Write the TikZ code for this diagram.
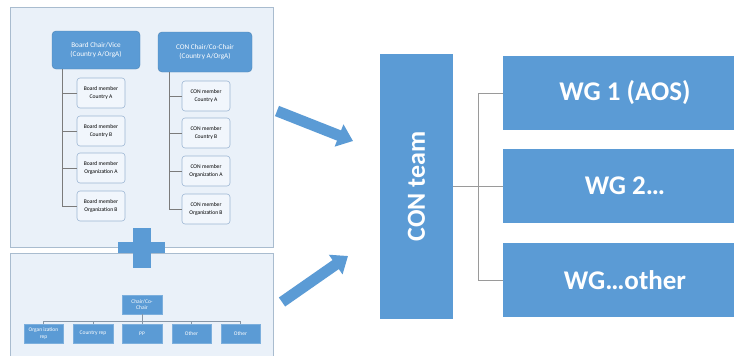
\documentclass[tikz,border=0pt]{standalone}
\usepackage{fontspec}
\setmainfont{Carlito}
\usetikzlibrary{arrows.meta,calc}
\definecolor{obl}{HTML}{5B9BD5}
\definecolor{panelfill}{HTML}{EAF1F9}
\definecolor{panelline}{HTML}{A9BCCF}
\definecolor{memfill}{HTML}{F1F6FC}
\definecolor{memline}{HTML}{9DB7D3}
\definecolor{linkgray}{HTML}{9A9A9A}
\begin{document}
\begin{tikzpicture}[x=1pt,y=-1pt,
  panel/.style={fill=panelfill,draw=panelline,line width=0.8pt},
  chairbox/.style={fill=obl,draw=obl!85!black,rounded corners=4pt,text=white,align=center,font=\fontsize{7.2}{9}\selectfont,inner sep=0pt},
  membox/.style={fill=memfill,draw=memline,line width=0.6pt,rounded corners=3pt,align=center,font=\fontsize{5.6}{7.5}\selectfont,minimum width=48pt,minimum height=30pt,inner sep=0pt},
  smallbox/.style={fill=obl,draw=obl!80!white,text=white,align=center,font=\fontsize{5.5}{6.5}\selectfont,minimum width=39pt,minimum height=19pt,inner sep=0pt},
  bigbox/.style={fill=obl,draw=none,text=white,font=\fontsize{27}{30}\selectfont\bfseries,inner sep=0pt},
  orgline/.style={draw=linkgray!80!black,line width=0.6pt},
  wglink/.style={draw=linkgray,line width=0.8pt},
  blockarrow/.style={draw=obl,line width=11pt,-{Triangle[length=15pt,width=23pt]}}
]
\useasboundingbox (0,0) rectangle (734,356);
\fill[white] (0,0) rectangle (734,356);

% panels
\path[panel] (10,7) rectangle (273,247);
\path[panel] (10,253) rectangle (273,360);

% board column
\node[chairbox,minimum width=88pt,minimum height=38pt] (bc) at (96,50) {Board Chair/Vice\\(Country A/OrgA)};
\node[membox] (b1) at (101,93) {Board member\\Country A};
\node[membox] (b2) at (101,131) {Board member\\Country B};
\node[membox] (b3) at (101,168) {Board member\\Organization A};
\node[membox] (b4) at (101,206) {Board member\\Organization B};
\coordinate (bx) at (62,0);
\draw[orgline] (bx |- bc.south) -- (bx |- b4.west) -- (b4.west);
\foreach \m in {b1,b2,b3} \draw[orgline] (bx |- \m.west) -- (\m.west);

% CON column
\node[chairbox,minimum width=94pt,minimum height=40pt] (cc) at (205,52) {CON Chair/Co-Chair\\(Country A/OrgA)};
\node[membox] (c1) at (206,96) {CON member\\Country A};
\node[membox] (c2) at (206,133) {CON member\\Country B};
\node[membox] (c3) at (206,171) {CON member\\Organization A};
\node[membox] (c4) at (206,209) {CON member\\Organization B};
\coordinate (cx) at (169,0);
\draw[orgline] (cx |- cc.south) -- (cx |- c4.west) -- (c4.west);
\foreach \m in {c1,c2,c3} \draw[orgline] (cx |- \m.west) -- (\m.west);

% plus sign
\fill[obl] (133,228) rectangle (151,268);
\fill[obl] (118,242) rectangle (165,253);

% bottom panel org chart
\node[smallbox,minimum width=40pt] (ch) at (142,304.5) {Chair/Co-\\Chair};
\node[smallbox] (p1) at (43.5,333.5) {Organ ization\\rep};
\node[smallbox,minimum width=40pt] (p2) at (93,333.5) {Country rep};
\node[smallbox,minimum width=40pt] (p3) at (142,333.5) {PP};
\node[smallbox] (p4) at (191.5,333.5) {Other};
\node[smallbox] (p5) at (240.5,333.5) {Other};
\coordinate (hb) at (0,321);
\draw[orgline,draw=panelline!80!black] (ch.south) -- (ch.south |- hb);
\draw[orgline,draw=panelline!80!black] (p1.north |- hb) -- (p5.north |- hb);
\foreach \p in {p1,p2,p3,p4,p5} \draw[orgline,draw=panelline!80!black] (\p.north |- hb) -- (\p.north);

% block arrows
\coordinate (a1s) at (277,111);
\coordinate (a1e) at (353,141);
\coordinate (a2s) at (282,302);
\coordinate (a2e) at (348,256);
\draw[blockarrow] (a1s) -- (a1e);
\draw[blockarrow] (a2s) -- (a2e);

% CON team and WGs
\node[bigbox,minimum width=73pt,minimum height=265pt] (con) at (416.5,186.5) {};
\node[text=white,font=\fontsize{26}{28}\selectfont\bfseries,rotate=90] (contxt) at (con.center) {CON team};
\node[bigbox,minimum width=244pt,minimum height=74pt] (wg1) at (625,93) {WG 1 (AOS)};
\node[bigbox,minimum width=244pt,minimum height=74pt] (wg2) at (625,186) {WG 2\ldots};
\node[bigbox,minimum width=244pt,minimum height=74pt] (wg3) at (625,280) {WG\ldots other};
\coordinate (bus) at (478,186.5);
\draw[wglink] (con.east |- wg2.west) -- (wg2.west);
\draw[wglink] (bus |- wg1.west) -- (bus |- wg3.west);
\draw[wglink] (bus |- wg1.west) -- (wg1.west);
\draw[wglink] (bus |- wg3.west) -- (wg3.west);
\end{tikzpicture}
\end{document}
